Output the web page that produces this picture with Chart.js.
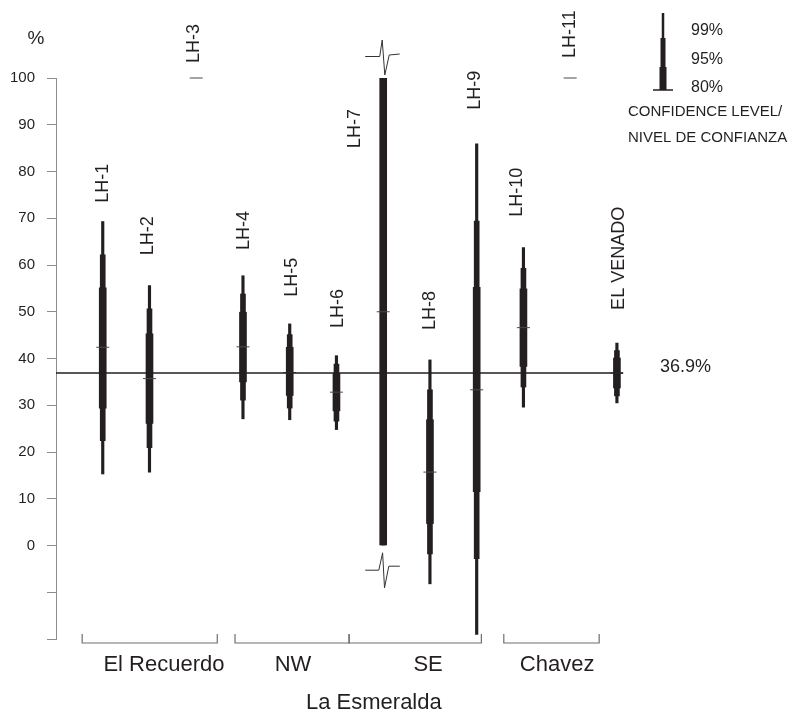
<!DOCTYPE html>
<html>
<head>
<meta charset="utf-8">
<script src="https://cdn.jsdelivr.net/npm/chart.js@4/dist/chart.umd.min.js"></script>
<style>
  html, body { margin: 0; padding: 0; background: #fff; }
  canvas { display: block; }
</style>
</head>
<body>
<canvas id="chart" width="798" height="717"></canvas>
<script>
// Sampling sites (left to right)
const categories = ['LH-1', 'LH-2', 'LH-3', 'LH-4', 'LH-5', 'LH-6', 'LH-7', 'LH-8', 'LH-9', 'LH-10', 'LH-11', 'EL VENADO'];

// Estimated value (%) and its confidence intervals
const meanValue = [42.4, 35.7, 100, 42.5, 37.0, 32.8, 50.0, 15.7, 33.3, 46.6, 100, 36.9];
const ci99Low   = [15.3, 15.7, null, 27.1, 26.9, 24.8, 0, -8.2, -19.0, 29.6, null, 30.5];
const ci99High  = [69.3, 55.6, null, 57.7, 47.4, 40.6, 100, 39.7, 85.9, 63.7, null, 43.3];
const ci95Low   = [22.4, 20.9, null, 31.1, 29.4, 26.6, 0, -1.8, -2.8, 33.9, null, 32.0];
const ci95High  = [62.2, 50.6, null, 53.8, 45.1, 38.8, 100, 33.3, 69.4, 59.3, null, 41.7];
const ci80Low   = [29.4, 26.1, null, 35.0, 32.1, 28.8, 0, 4.7, 11.5, 38.3, null, 33.7];
const ci80High  = [55.1, 45.3, null, 49.9, 42.4, 36.8, 100, 26.9, 55.2, 54.9, null, 40.1];

// Regional reference value (%)
const referenceValue = 36.9;

// Y axis tick values
const yTicks = [-20, -10, 0, 10, 20, 30, 40, 50, 60, 70, 80, 90, 100];

// Site groups shown under the axis
const groupNames = ['El Recuerdo', 'NW', 'SE', 'Chavez'];
const regionName = 'La Esmeralda';

// ---- presentation -------------------------------------------------------
const FONT = "'Liberation Sans', Arial, Helvetica, sans-serif";
const INK = '#231f20';
const AXIS = '#8c8c8c';

// where each rotated site name starts (value units) and its sideways nudge (px)
const labelStart = [73.3, 62.1, 103.2, 63.2, 53.2, 46.5, 85.0, 46.1, 93.2, 70.3, 104.3, 50.4];
const labelNudge = [0, -1, -2, 1, 2, 2, -28, 0, -2, -6, 0, 2.5];

// bracket extents and name centres along the site axis
const bracketFrom = [0.56, 3.83, 6.27, 9.58];
const bracketTo   = [3.45, 6.27, 9.10, 11.62];
const nameCenters = [2.31, 5.07, 7.96, 10.72];
const regionCenter = 6.8;

function intervals(lo, hi) {
  const out = [];
  categories.forEach((c, i) => {
    if (lo[i] != null && hi[i] != null) out.push({ x: i + 1, y: [lo[i], hi[i]] });
  });
  return out;
}

const annotations = {
  id: 'annotations',
  afterDraw(chart) {
    const { ctx, chartArea } = chart;
    const xs = chart.scales.x, ys = chart.scales.y;
    ctx.save();
    ctx.fillStyle = INK;
    ctx.strokeStyle = INK;

    // axis unit
    ctx.font = `19px ${FONT}`;
    ctx.textAlign = 'center';
    ctx.textBaseline = 'middle';
    ctx.fillText('%', 36, 39);

    // rotated site names
    ctx.font = `18px ${FONT}`;
    categories.forEach((name, i) => {
      const x = xs.getPixelForValue(i + 1) + labelNudge[i];
      const y = ys.getPixelForValue(labelStart[i]);
      ctx.save();
      ctx.translate(x, y);
      ctx.rotate(-Math.PI / 2);
      ctx.textAlign = 'left';
      ctx.textBaseline = 'middle';
      ctx.fillText(name, 0, 0);
      ctx.restore();
    });

    // break symbols on the open-ended interval (LH-7)
    const bi = categories.indexOf('LH-7');
    const bx = xs.getPixelForValue(bi + 1);
    const bt = ys.getPixelForValue(ci80High[bi]);
    const bb = ys.getPixelForValue(ci80Low[bi]);
    ctx.lineWidth = 1;
    ctx.strokeStyle = '#333';
    const topBreak = [[-18, -21.5], [-3.5, -21.5], [-1, -38], [1.6, -3], [6, -23], [16.5, -24]];
    const botBreak = [[-18, 24.7], [-4.4, 24.7], [-0.6, 7.3], [1.3, 42.3], [5.6, 20.7], [16.6, 20.7]];
    [[topBreak, bt], [botBreak, bb]].forEach(([pts, y0]) => {
      ctx.beginPath();
      pts.forEach(([dx, dy], k) => {
        if (k === 0) ctx.moveTo(bx + dx, y0 + dy); else ctx.lineTo(bx + dx, y0 + dy);
      });
      ctx.stroke();
    });

    // reference value label
    ctx.fillStyle = INK;
    ctx.font = `18px ${FONT}`;
    ctx.textAlign = 'left';
    ctx.textBaseline = 'middle';
    ctx.fillText(referenceValue.toFixed(1) + '%', chartArea.right + 37, ys.getPixelForValue(referenceValue) - 6);

    // group brackets and names
    const lineY = 643, tickTop = 634;
    ctx.strokeStyle = '#6e6e6e';
    ctx.lineWidth = 1.2;
    groupNames.forEach((g, k) => {
      const left = xs.getPixelForValue(bracketFrom[k]);
      const right = xs.getPixelForValue(bracketTo[k]);
      ctx.beginPath();
      ctx.moveTo(left, tickTop);
      ctx.lineTo(left, lineY);
      ctx.lineTo(right, lineY);
      ctx.lineTo(right, tickTop);
      ctx.stroke();
    });
    ctx.fillStyle = INK;
    ctx.font = `22px ${FONT}`;
    ctx.textAlign = 'center';
    ctx.textBaseline = 'middle';
    groupNames.forEach((g, k) => {
      ctx.fillText(g, xs.getPixelForValue(nameCenters[k]), 665);
    });
    ctx.fillText(regionName, xs.getPixelForValue(regionCenter), 703);

    // confidence level key
    const kx = 663;
    ctx.fillStyle = INK;
    ctx.fillRect(kx - 1.25, 13, 2.5, 25);
    ctx.fillRect(kx - 2.5, 38, 5, 29);
    ctx.fillRect(kx - 3.5, 67, 7, 23);
    ctx.strokeStyle = INK;
    ctx.lineWidth = 1.5;
    ctx.beginPath();
    ctx.moveTo(653, 90);
    ctx.lineTo(673, 90);
    ctx.stroke();
    ctx.font = `16px ${FONT}`;
    ctx.textAlign = 'left';
    ctx.fillText('99%', 691, 31);
    ctx.fillText('95%', 691, 59.5);
    ctx.fillText('80%', 691, 87.5);
    ctx.font = `15px ${FONT}`;
    ctx.fillText('CONFIDENCE LEVEL/', 628, 112);
    ctx.fillText('NIVEL DE CONFIANZA', 628, 137.5);

    ctx.restore();
  }
};

new Chart(document.getElementById('chart'), {
  type: 'bar',
  data: {
    datasets: [
      {
        type: 'line',
        data: [{ x: 0, y: referenceValue }, { x: 12.13, y: referenceValue }],
        borderColor: INK,
        borderWidth: 1.3,
        pointRadius: 0,
        order: 0
      },
      {
        type: 'scatter',
        data: meanValue.map((v, i) => ({ x: i + 1, y: v })),
        pointStyle: 'line',
        radius: 6.5,
        borderColor: '#4a4a4a',
        borderWidth: 1,
        clip: false,
        order: 0
      },
      {
        label: '80%',
        data: intervals(ci80Low, ci80High),
        backgroundColor: INK,
        barThickness: 7,
        grouped: false,
        order: 1
      },
      {
        label: '95%',
        data: intervals(ci95Low, ci95High),
        backgroundColor: INK,
        barThickness: 5,
        grouped: false,
        order: 2
      },
      {
        label: '99%',
        data: intervals(ci99Low, ci99High),
        backgroundColor: INK,
        barThickness: 2.5,
        grouped: false,
        order: 3
      }
    ]
  },
  options: {
    responsive: false,
    animation: false,
    events: [],
    layout: { padding: { left: 0, top: 78, right: 175, bottom: 78 } },
    plugins: { legend: { display: false }, tooltip: { enabled: false } },
    scales: {
      x: { type: 'linear', min: 0, max: 12.13, offset: false, display: false },
      y: {
        type: 'linear',
        min: yTicks[0],
        max: yTicks[yTicks.length - 1],
        afterBuildTicks(s) { s.ticks = yTicks.map(v => ({ value: v })); },
        afterFit(s) { s.width = 56; },
        ticks: {
          color: INK,
          font: { family: FONT, size: 15 },
          padding: 12,
          callback: v => (v < 0 ? '' : String(v))
        },
        grid: { drawOnChartArea: false, tickLength: 9, color: AXIS, lineWidth: 1 },
        border: { color: AXIS, width: 1 }
      }
    }
  },
  plugins: [annotations]
});
</script>
</body>
</html>
